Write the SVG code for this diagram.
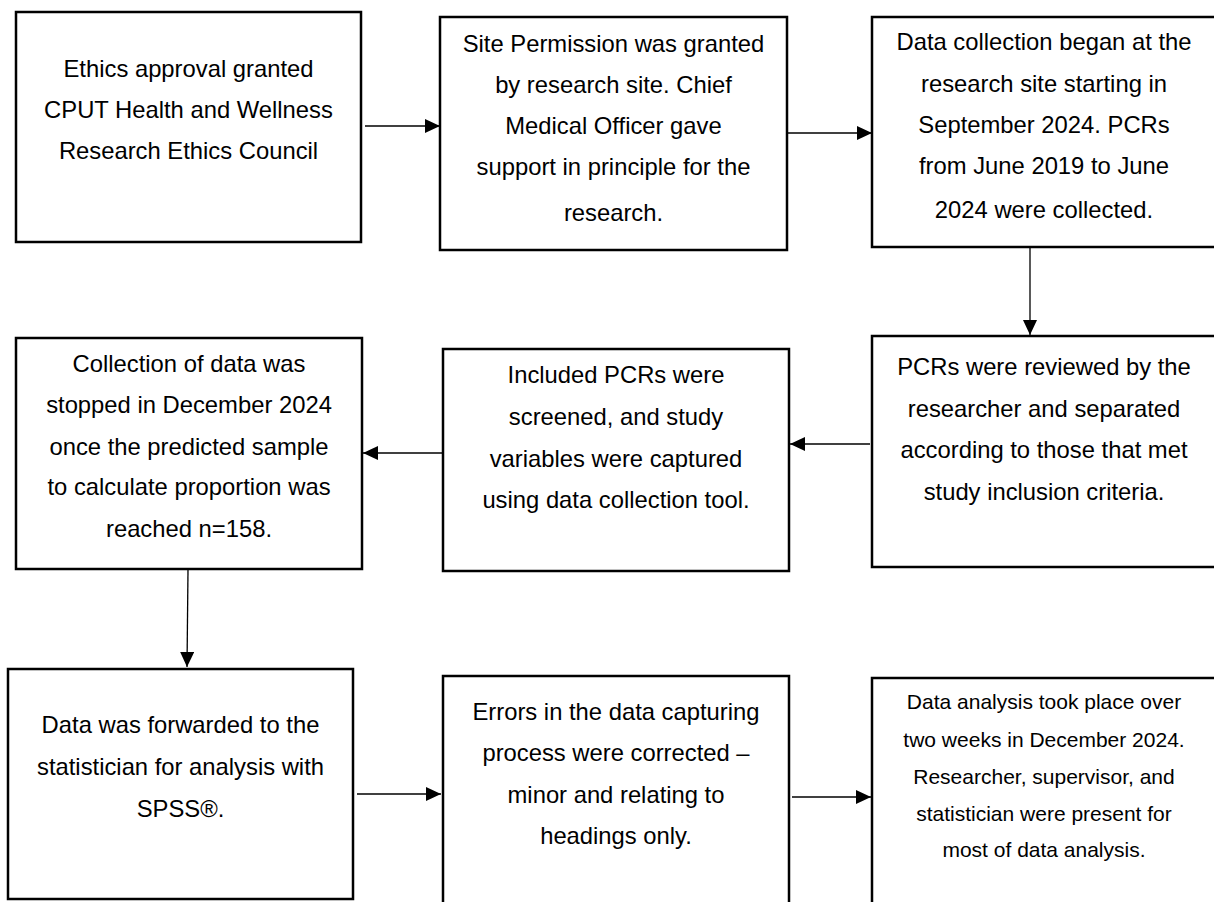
<svg xmlns="http://www.w3.org/2000/svg" width="1214" height="902" viewBox="0 0 1214 902">
<style>
.box{fill:#fff;stroke:#000;stroke-width:2.5}
.t{font-family:"Liberation Sans",Arial,sans-serif;font-size:23.8px;fill:#000;text-anchor:middle}
.s{font-size:21px}
.c{stroke:#000;stroke-width:1.3;fill:none;marker-end:url(#ah)}
</style>
<defs>
<marker id="ah" markerUnits="userSpaceOnUse" markerWidth="15" markerHeight="14" refX="15" refY="7" orient="auto">
<path d="M0,0 L15,7 L0,14 z" fill="#000"/>
</marker>
</defs>
<rect width="1214" height="902" fill="#fff"/>
<g id="connectors">
<path class="c" d="M365,126 L440,126"/>
<path class="c" d="M788,133 L872,133"/>
<path class="c" d="M1030,248 L1030,335"/>
<path class="c" d="M870,444 L790,444"/>
<path class="c" d="M442,453 L363,453"/>
<path class="c" d="M188,570 L187,667"/>
<path class="c" d="M357,794 L441,794"/>
<path class="c" d="M792,797 L871,797"/>
</g>
<g id="n1">
<rect class="box" x="16" y="12" width="345" height="230"/>
<text class="t"><tspan x="188.5" y="77">Ethics approval granted</tspan><tspan x="188.5" y="118">CPUT Health and Wellness</tspan><tspan x="188.5" y="159">Research Ethics Council</tspan></text>
</g>
<g id="n2">
<rect class="box" x="440" y="17" width="347" height="233"/>
<text class="t"><tspan x="613.5" y="52">Site Permission was granted</tspan><tspan x="613.5" y="93">by research site. Chief</tspan><tspan x="613.5" y="134">Medical Officer gave</tspan><tspan x="613.5" y="175">support in principle for the</tspan><tspan x="613.5" y="221">research.</tspan></text>
</g>
<g id="n3">
<rect class="box" x="872" y="17" width="346" height="230"/>
<text class="t"><tspan x="1044" y="50">Data collection began at the</tspan><tspan x="1044" y="92">research site starting in</tspan><tspan x="1044" y="133">September 2024. PCRs</tspan><tspan x="1044" y="174">from June 2019 to June</tspan><tspan x="1044" y="218">2024 were collected.</tspan></text>
</g>
<g id="n4">
<rect class="box" x="872" y="336" width="346" height="231"/>
<text class="t"><tspan x="1044" y="375">PCRs were reviewed by the</tspan><tspan x="1044" y="417">researcher and separated</tspan><tspan x="1044" y="458">according to those that met</tspan><tspan x="1044" y="500">study inclusion criteria.</tspan></text>
</g>
<g id="n5">
<rect class="box" x="443" y="349" width="346" height="222"/>
<text class="t"><tspan x="616" y="383">Included PCRs were</tspan><tspan x="616" y="425">screened, and study</tspan><tspan x="616" y="467">variables were captured</tspan><tspan x="616" y="508">using data collection tool.</tspan></text>
</g>
<g id="n6">
<rect class="box" x="16" y="338" width="346" height="231"/>
<text class="t"><tspan x="189" y="372">Collection of data was</tspan><tspan x="189" y="413">stopped in December 2024</tspan><tspan x="189" y="455">once the predicted sample</tspan><tspan x="189" y="495">to calculate proportion was</tspan><tspan x="189" y="537">reached n=158.</tspan></text>
</g>
<g id="n7">
<rect class="box" x="8" y="669" width="345" height="230"/>
<text class="t"><tspan x="180.5" y="733">Data was forwarded to the</tspan><tspan x="180.5" y="775">statistician for analysis with</tspan><tspan x="180.5" y="817">SPSS®.</tspan></text>
</g>
<g id="n8">
<rect class="box" x="443" y="676" width="346" height="240"/>
<text class="t"><tspan x="616" y="720">Errors in the data capturing</tspan><tspan x="616" y="761">process were corrected –</tspan><tspan x="616" y="803">minor and relating to</tspan><tspan x="616" y="844">headings only.</tspan></text>
</g>
<g id="n9">
<rect class="box" x="872" y="678" width="346" height="240"/>
<text class="t s"><tspan x="1044" y="709">Data analysis took place over</tspan><tspan x="1044" y="747">two weeks in December 2024.</tspan><tspan x="1044" y="784">Researcher, supervisor, and</tspan><tspan x="1044" y="821">statistician were present for</tspan><tspan x="1044" y="857">most of data analysis.</tspan></text>
</g>
</svg>
